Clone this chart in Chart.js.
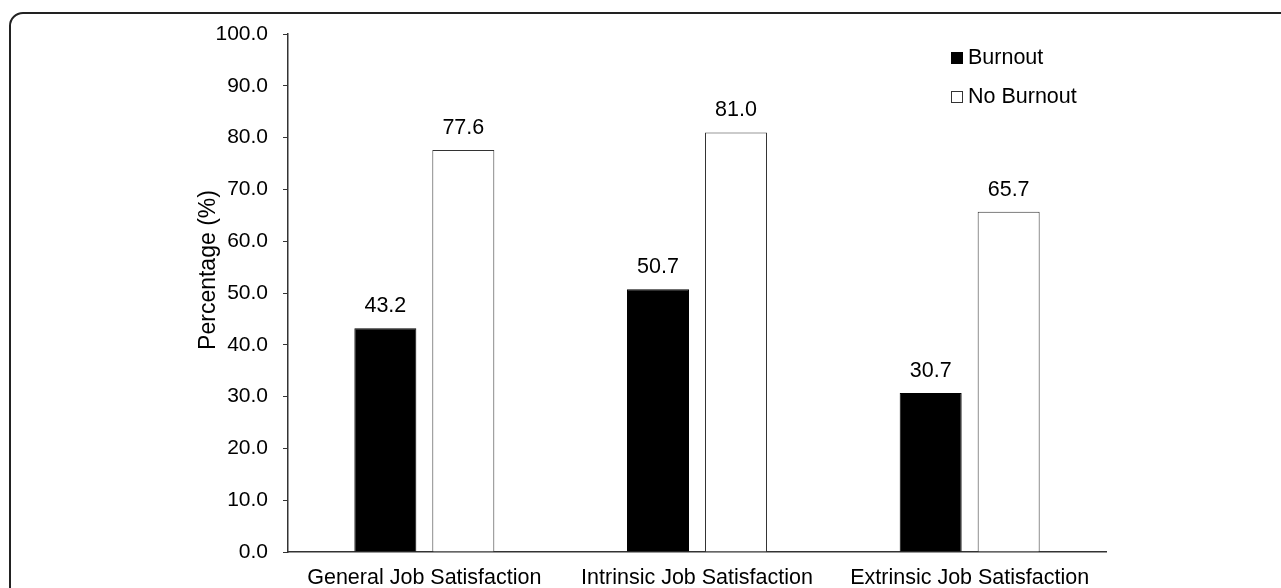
<!DOCTYPE html>
<html>
<head>
<meta charset="utf-8">
<script src="https://cdn.jsdelivr.net/npm/chart.js@4.4.1/dist/chart.umd.min.js"></script>
<style>
  html, body { margin: 0; padding: 0; background: #fff; overflow: hidden; }
  #wrap { position: relative; width: 1281px; height: 588px; }
  #frame { position: absolute; left: 9px; top: 12px; width: 1400px; height: 700px;
           border: 2px solid #222; border-radius: 14px; box-sizing: border-box; }
  #myChart { position: absolute; left: 0; top: 0; }
</style>
</head>
<body>
<div id="wrap">
  <div id="frame"></div>
  <canvas id="myChart" width="1281" height="588"></canvas>
</div>
<script>
var categories = ["General Job Satisfaction", "Intrinsic Job Satisfaction", "Extrinsic Job Satisfaction"];
var burnout = [43.2, 50.7, 30.7];
var noBurnout = [77.6, 81.0, 65.7];
var seriesNames = ["Burnout", "No Burnout"];
var yTicks = [0, 10, 20, 30, 40, 50, 60, 70, 80, 90, 100];
var yTitle = "Percentage (%)";

var fontName = "'Liberation Sans', Arial, sans-serif";

// numbers on top of every bar
var valueLabels = {
  id: "valueLabels",
  afterDatasetsDraw: function(chart) {
    var ctx = chart.ctx;
    ctx.save();
    ctx.font = "21.5px " + fontName;
    ctx.fillStyle = "#000";
    ctx.textAlign = "center";
    ctx.textBaseline = "alphabetic";
    chart.data.datasets.forEach(function(ds, i) {
      chart.getDatasetMeta(i).data.forEach(function(bar, j) {
        ctx.fillText(ds.data[j].toFixed(1), bar.x, bar.y - 16);
      });
    });
    ctx.restore();
  }
};

// legend inside the plot, top right, and the y title (sits a bit above centre)
var boxLegend = {
  id: "boxLegend",
  afterDraw: function(chart) {
    var ctx = chart.ctx;
    ctx.save();
    ctx.font = "21.5px " + fontName;
    ctx.textBaseline = "middle";
    chart.data.datasets.forEach(function(ds, i) {
      var y = 52 + i * 39;
      ctx.fillStyle = ds.backgroundColor;
      ctx.fillRect(951.5, y + 0.5, 11, 11);
      ctx.strokeStyle = ds.borderColor;
      ctx.lineWidth = 1;
      ctx.strokeRect(951.5, y + 0.5, 11, 11);
      ctx.fillStyle = "#000";
      ctx.fillText(ds.label, 968, y + 6);
    });
    ctx.translate(209, 270);
    ctx.rotate(-Math.PI / 2);
    ctx.font = "23px " + fontName;
    ctx.textAlign = "center";
    ctx.fillText(yTitle, 0, 0);
    ctx.restore();
  }
};

new Chart("myChart", {
  type: "bar",
  data: {
    labels: categories,
    datasets: [{
      label: seriesNames[0],
      data: burnout,
      backgroundColor: "#000",
      borderColor: "#000",
      borderWidth: 1
    }, {
      label: seriesNames[1],
      data: noBurnout,
      backgroundColor: "#fff",
      borderColor: "#333",
      borderWidth: 1
    }]
  },
  options: {
    responsive: false,
    animation: false,
    events: [],
    layout: { padding: { left: 184, top: 34, right: 175, bottom: 0 } },
    datasets: { bar: { categoryPercentage: 0.572, barPercentage: 0.795 } },
    plugins: {
      legend: { display: false },
      tooltip: { enabled: false }
    },
    scales: {
      x: {
        grid: { display: false, drawTicks: false },
        border: { display: true, color: "#333", width: 1.5 },
        ticks: { color: "#000", font: { family: fontName, size: 21.5 }, padding: 13, maxRotation: 0 },
        afterFit: function(scale) { scale.height = 36; }
      },
      y: {
        min: 0,
        max: 100,
        afterBuildTicks: function(scale) {
          scale.ticks = yTicks.map(function(v) { return { value: v }; });
        },
        grid: { drawOnChartArea: false, drawTicks: true, tickLength: 5, color: "#333" },
        border: { display: true, color: "#333", width: 1.5 },
        ticks: {
          color: "#000",
          font: { family: fontName, size: 21 },
          padding: 15,
          callback: function(v) { return Number(v).toFixed(1); }
        },
        afterFit: function(scale) { scale.width = 104; }
      }
    }
  },
  plugins: [valueLabels, boxLegend]
});
</script>
</body>
</html>
